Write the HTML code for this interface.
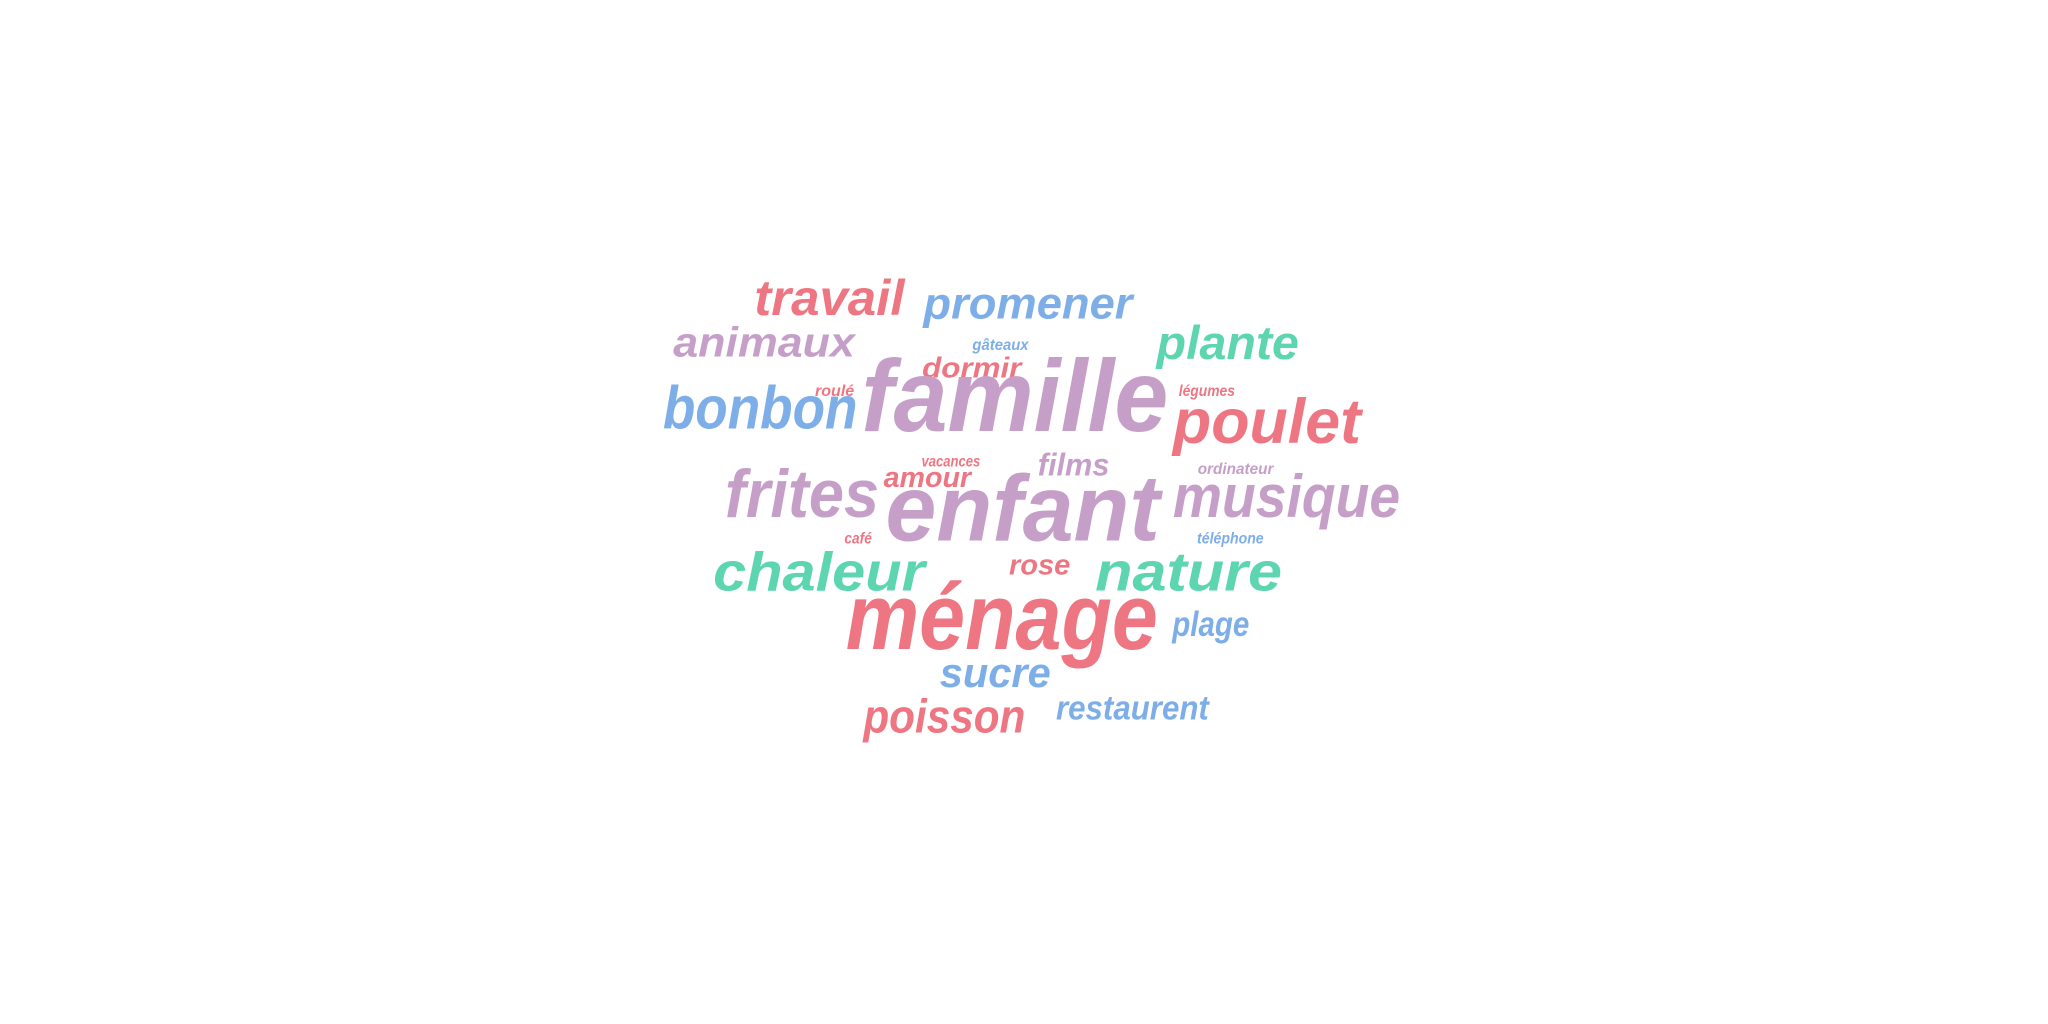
<!DOCTYPE html>
<html><head><meta charset="utf-8"><style>
html,body{margin:0;padding:0;background:#fff;width:2048px;height:1024px;overflow:hidden}
svg text{font-family:"Liberation Sans",sans-serif;font-weight:bold;font-style:italic;text-anchor:middle}
.r{fill:#ee7682}.p{fill:#c69fc9}.b{fill:#7eaee8}.g{fill:#5dd6b0}
</style></head><body>
<svg width="2048" height="1024" viewBox="0 0 1568 784" xmlns="http://www.w3.org/2000/svg">
<text class="r" x="635" y="241" font-size="38" textLength="115" lengthAdjust="spacingAndGlyphs">travail</text>
<text class="b" x="787" y="244" font-size="34" textLength="160" lengthAdjust="spacingAndGlyphs">promener</text>
<text class="p" x="585" y="273" font-size="32" textLength="139" lengthAdjust="spacingAndGlyphs">animaux</text>
<text class="g" x="940" y="275" font-size="36" textLength="109" lengthAdjust="spacingAndGlyphs">plante</text>
<text class="b" x="766" y="268" font-size="12" textLength="43" lengthAdjust="spacingAndGlyphs">gâteaux</text>
<text class="r" x="744" y="289" font-size="22" textLength="76" lengthAdjust="spacingAndGlyphs">dormir</text>
<text class="p" x="777" y="330" font-size="78" textLength="235" lengthAdjust="spacingAndGlyphs">famille</text>
<text class="b" x="582" y="328" font-size="46" textLength="149" lengthAdjust="spacingAndGlyphs">bonbon</text>
<text class="r" x="639" y="303" font-size="12" textLength="30" lengthAdjust="spacingAndGlyphs">roulé</text>
<text class="r" x="924" y="303" font-size="12" textLength="43" lengthAdjust="spacingAndGlyphs">légumes</text>
<text class="r" x="970" y="339" font-size="48" textLength="144" lengthAdjust="spacingAndGlyphs">poulet</text>
<text class="p" x="822" y="364" font-size="24" textLength="55" lengthAdjust="spacingAndGlyphs">films</text>
<text class="r" x="728" y="357" font-size="12" textLength="45" lengthAdjust="spacingAndGlyphs">vacances</text>
<text class="p" x="946" y="363" font-size="12" textLength="58" lengthAdjust="spacingAndGlyphs">ordinateur</text>
<text class="r" x="710" y="373" font-size="22" textLength="67" lengthAdjust="spacingAndGlyphs">amour</text>
<text class="p" x="614" y="396" font-size="52" textLength="118" lengthAdjust="spacingAndGlyphs">frites</text>
<text class="p" x="985" y="396" font-size="46" textLength="174" lengthAdjust="spacingAndGlyphs">musique</text>
<text class="p" x="783" y="414" font-size="72" textLength="210" lengthAdjust="spacingAndGlyphs">enfant</text>
<text class="r" x="657" y="416" font-size="12" textLength="21" lengthAdjust="spacingAndGlyphs">café</text>
<text class="b" x="942" y="416" font-size="12" textLength="51" lengthAdjust="spacingAndGlyphs">téléphone</text>
<text class="r" x="796" y="440" font-size="22" textLength="47" lengthAdjust="spacingAndGlyphs">rose</text>
<text class="g" x="627" y="452" font-size="42" textLength="162" lengthAdjust="spacingAndGlyphs">chaleur</text>
<text class="g" x="910" y="452" font-size="42" textLength="143" lengthAdjust="spacingAndGlyphs">nature</text>
<text class="r" x="767" y="497" font-size="72" textLength="239" lengthAdjust="spacingAndGlyphs">ménage</text>
<text class="b" x="927" y="487" font-size="27" textLength="59" lengthAdjust="spacingAndGlyphs">plage</text>
<text class="b" x="762" y="526" font-size="32" textLength="85" lengthAdjust="spacingAndGlyphs">sucre</text>
<text class="r" x="723" y="561" font-size="36" textLength="124" lengthAdjust="spacingAndGlyphs">poisson</text>
<text class="b" x="867" y="551" font-size="26" textLength="117" lengthAdjust="spacingAndGlyphs">restaurent</text>
</svg>
</body></html>
